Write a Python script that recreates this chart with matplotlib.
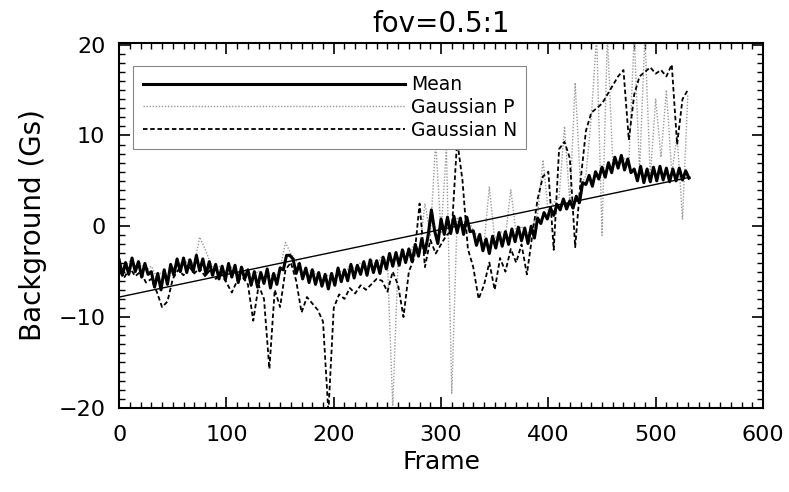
import numpy as np
import matplotlib
matplotlib.use("Agg")
import matplotlib.pyplot as plt
from matplotlib.ticker import MultipleLocator

# mean background, one value every 3 frames
mean_frames = np.arange(0, 532, 3)
mean_bg = [
    -3.7, -5.4, -4.0, -5.3, -3.5, -5.0, -3.9, -5.6, -4.1, -5.3,
    -5.0, -6.7, -5.2, -7.0, -4.8, -6.4, -4.2, -5.4, -3.6, -5.0,
    -3.5, -5.1, -3.7, -5.0, -3.2, -4.9, -3.6, -5.3, -3.9, -5.4,
    -4.2, -5.8, -4.4, -5.9, -4.1, -5.6, -4.3, -6.2, -4.5, -5.8,
    -4.8, -6.5, -5.0, -6.7, -5.1, -6.3, -4.7, -6.8, -5.2, -6.4,
    -4.6, -4.8, -3.2, -3.2, -3.6, -5.2, -4.1, -5.8, -4.6, -6.2,
    -4.8, -6.4, -5.1, -6.6, -5.3, -6.9, -5.2, -6.5, -4.6, -6.1,
    -4.8, -6.0, -4.2, -5.7, -4.3, -5.3, -3.9, -5.4, -3.7, -5.1,
    -3.8, -5.2, -3.4, -4.7, -3.0, -4.4, -2.9, -4.3, -2.6, -4.0,
    -2.5, -3.9, -2.0, -3.3, -1.4, -2.9, -1.0, 1.8, -0.5, -1.9,
    0.8, -0.9, 1.0, -0.8, 1.1, -0.7, 0.9, -0.9, 1.0, -0.6,
    -0.5, -2.1, -0.9, -2.7, -1.4, -3.0, -1.1, -2.4, -0.7, -2.2,
    -0.6, -2.0, -0.3, -1.7, -0.1, -1.6, -0.2, -1.9, 0.0, -1.3,
    0.9, 0.3, 1.5, 0.8, 2.0, 1.2, 2.4, 1.8, 3.0, 1.9,
    2.8, 2.0, 3.3, 2.6, 4.8, 4.6, 5.6, 4.4, 6.0, 5.2,
    6.5, 5.4, 7.0, 5.9, 7.6, 6.4, 7.8, 6.2, 7.4, 5.9,
    6.3, 5.0, 6.6, 4.8, 6.3, 4.9, 6.5, 5.0, 6.6, 5.1,
    6.4, 4.9, 6.3, 5.0, 6.4, 5.1, 6.1, 5.3,
]

# gaussian fits, one value every 5 frames
frames = np.arange(0, 531, 5)
gauss_p = [
    -4.0, -4.6, -3.8, -4.5, -4.1, -4.9, -4.4, -5.6, -5.0, -6.0, -4.7,
    -4.0, -4.4, -3.6, -4.3, -1.2, -2.5, -4.0, -4.8, -4.3, -5.1,
    -4.5, -5.3, -4.6, -5.0, -5.5, -4.9, -5.7, -5.2, -5.8, -4.7,
    -1.8, -3.0, -3.8, -4.9, -5.2, -4.7, -5.5, -5.9, -5.3, -5.8,
    -4.8, -5.4, -4.3, -4.7, -4.0, -4.5, -3.7, -4.3, -3.3, -3.9,
    -19.8, -3.6, -2.7, -3.2, -2.0, -2.5, 2.5, -1.0, 9.3, -0.8,
    8.6, -18.4, 1.0, 0.3, 0.8, -0.5, -1.2, -2.0, 4.3, -1.4,
    -0.5, -1.1, 4.0, -0.8, 0.0, -1.0, 0.1, 1.3, 7.3, 1.5,
    2.6, 3.2, 11.0, 2.6, 15.8, 4.4, 5.6, 12.0, 21.0, -1.0,
    21.0, 7.2, 6.6, 7.6, 6.9, 21.0, 6.0, 21.0, 5.4, 14.0,
    7.6, 15.0, 5.8, 10.0, 0.8, 14.5,
]
gauss_n = [
    -5.0, -5.6, -4.6, -5.5, -5.0, -6.2, -5.8, -7.2, -8.9, -8.3, -5.8,
    -4.8, -5.4, -4.4, -5.2, -4.6, -5.5, -4.8, -5.8, -5.2, -6.2,
    -7.3, -6.0, -5.6, -6.4, -10.4, -6.5, -8.0, -15.7, -7.0, -8.9,
    -4.8, -4.0, -6.0, -9.5, -7.8, -8.5, -9.2, -10.5, -20.5, -9.0,
    -7.5, -8.0, -6.8, -7.4, -6.5, -7.0, -6.4, -5.8, -6.0, -7.2,
    -5.0, -6.5, -10.0, -5.0, -3.5, 2.5, -4.5, -1.5, -3.0, -2.0,
    -1.0, -0.5, 9.5, 5.0, -2.5, -4.5, -8.0, -6.5, -4.0, -7.0,
    -3.5, -5.0, -2.5, -4.0, -2.0, -5.3, -1.0, 3.0, 5.5, 6.0,
    -2.6, 8.5, 9.3, 7.5, -2.3, 5.0, 10.5, 12.5, 13.0, 13.5,
    14.5, 15.5, 16.5, 17.2, 9.5, 14.5, 16.5, 17.0, 17.5, 16.8,
    17.2, 16.5, 17.8, 9.0, 14.0, 15.0,
]

# linear fit to the mean
fit_frames = [0, 532]
fit_values = [-7.8, 5.4]

fig = plt.figure(figsize=(7.89, 4.92), dpi=100)
ax = fig.add_axes([0.151, 0.171, 0.816, 0.742])

ax.plot(frames, gauss_p, color='#9a9a9a', lw=1.0, ls=(0, (1, 1.2)), label='Gaussian P')
ax.plot(frames, gauss_n, color='black', lw=1.3, ls=(0, (2.5, 1.5)), label='Gaussian N')
ax.plot(mean_frames, mean_bg, color='black', lw=2.2, label='Mean')
ax.plot(fit_frames, fit_values, color='black', lw=1.0)

ax.set_xlim(0, 600)
ax.set_ylim(-20, 20.2)
ax.xaxis.set_major_locator(MultipleLocator(100))
ax.xaxis.set_minor_locator(MultipleLocator(10))
ax.yaxis.set_major_locator(MultipleLocator(10))
ax.yaxis.set_minor_locator(MultipleLocator(1))
ax.tick_params(which='both', direction='in', top=True, right=True, labelsize=16)
ax.tick_params(which='major', length=8, width=1.2)
ax.tick_params(axis='x', which='major', pad=12)
ax.tick_params(axis='y', which='major', pad=10)
ax.tick_params(which='minor', length=4, width=1.0)
for s in ax.spines.values():
    s.set_linewidth(1.5)

ax.set_xlabel('Frame', fontsize=18, labelpad=4)
ax.set_ylabel('Background (Gs)', fontsize=20, labelpad=8)
ax.set_title('fov=0.5:1', fontsize=20, pad=8)

h, l = ax.get_legend_handles_labels()
order = [2, 0, 1]
leg = ax.legend([h[i] for i in order], [l[i] for i in order],
                loc='upper left', bbox_to_anchor=(0.022, 0.937),
                borderaxespad=0, handlelength=14, fontsize=13.5,
                fancybox=False, edgecolor='#888888', framealpha=1,
                borderpad=0.5, labelspacing=0.2, handletextpad=0.3)
leg.get_frame().set_linewidth(0.8)

fig.savefig('out.png', dpi=100)
